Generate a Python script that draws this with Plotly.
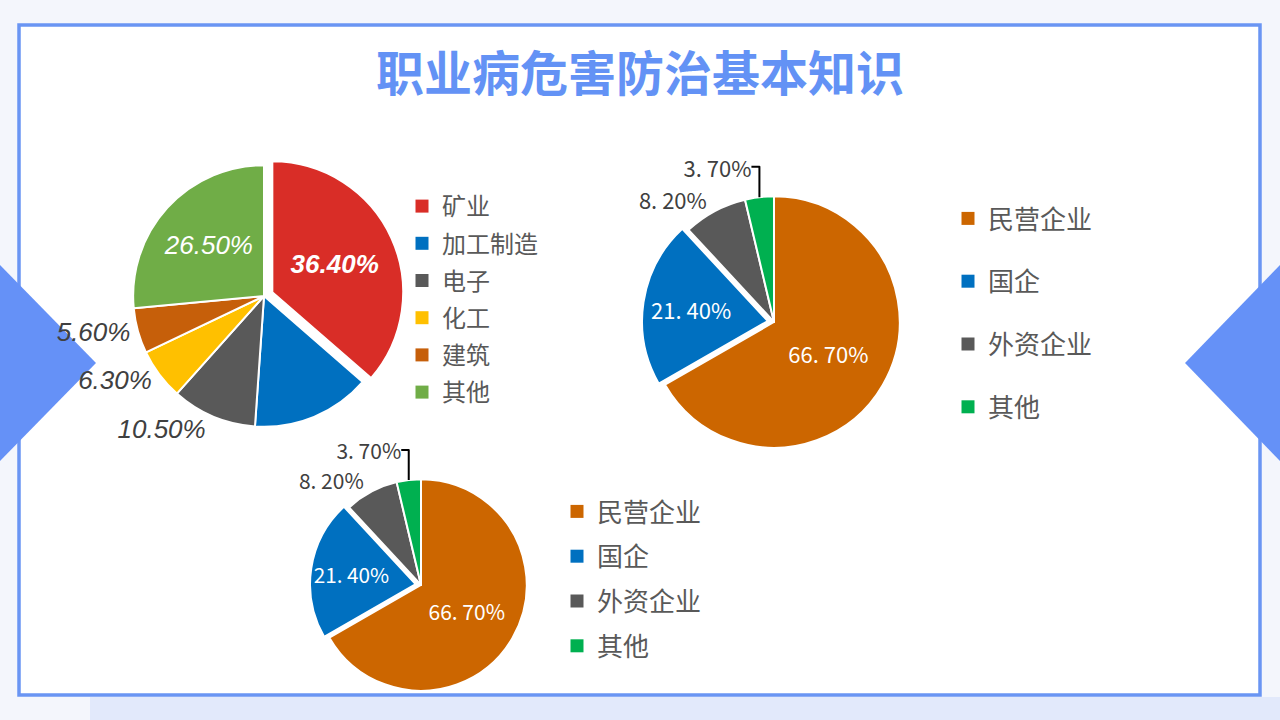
import plotly.graph_objects as go

title_text = "职业病危害防治基本知识"

# pie 1: industry share
industry_labels = ["矿业", "加工制造", "电子", "化工", "建筑", "其他"]
industry_values = [36.4, 14.7, 10.5, 6.3, 5.6, 26.5]
industry_colors = ["#D92D27", "#0070C0", "#595959", "#FFC000", "#C65F0A", "#70AD47"]

# pie 2 / pie 3: enterprise type share
owner_labels = ["民营企业", "国企", "外资企业", "其他"]
owner_values = [66.7, 21.4, 8.2, 3.7]
owner_colors = ["#CC6600", "#0070C0", "#595959", "#00B050"]

cjk = "Noto Sans CJK SC"
blue = "#6392F5"
label_grey = "#595959"
dark_text = "#404040"

W, H = 1280, 720


def dom(cx, cy, half):
    # pixel center + half size -> paper domain
    return dict(x=[(cx - half) / W, (cx + half) / W],
                y=[(H - cy - half) / H, (H - cy + half) / H])


def wide_pct(v):
    return f"{v:.2f}%".replace(".", ". ")


fig = go.Figure()

# ---- pie 1
fig.add_trace(go.Pie(
    labels=industry_labels, values=industry_values,
    text=[f"{v:.2f}%" for v in industry_values], textinfo="text",
    textposition=["inside", "none", "outside", "outside", "outside", "inside"],
    insidetextorientation="horizontal",
    textfont=dict(family="Liberation Sans, Arial", size=26, style="italic",
                  weight=[700, 400, 400, 400, 400, 400],
                  color=["white", "white", dark_text, dark_text, dark_text, "white"]),
    marker=dict(colors=industry_colors, line=dict(color="white", width=2)),
    pull=[0.07, 0, 0, 0, 0, 0],
    sort=False, direction="clockwise", rotation=0,
    domain=dom(264, 296, 140), showlegend=False, hoverinfo="label+percent",
))

# ---- pie 2
fig.add_trace(go.Pie(
    labels=owner_labels, values=owner_values,
    text=[wide_pct(v) for v in owner_values], textinfo="text",
    textposition=["inside", "inside", "outside", "outside"],
    insidetextorientation="horizontal",
    textfont=dict(family=cjk, size=22,
                  color=["white", "white", dark_text, dark_text]),
    marker=dict(colors=owner_colors, line=dict(color="white", width=2)),
    pull=[0, 0.05, 0, 0],
    sort=False, direction="clockwise", rotation=0,
    domain=dom(774, 322, 132), showlegend=False, hoverinfo="label+percent",
))

# ---- pie 3
fig.add_trace(go.Pie(
    labels=owner_labels, values=owner_values,
    text=[wide_pct(v) for v in owner_values], textinfo="text",
    textposition=["inside", "inside", "outside", "outside"],
    insidetextorientation="horizontal",
    textfont=dict(family=cjk, size=21,
                  color=["white", "white", dark_text, dark_text]),
    marker=dict(colors=owner_colors, line=dict(color="white", width=2)),
    pull=[0, 0.05, 0, 0],
    sort=False, direction="clockwise", rotation=0,
    domain=dom(421, 585, 111), showlegend=False, hoverinfo="label+percent",
))

# legends: one entry per category so the spacing can be set with tracegroupgap
for leg, labels, colors in [("legend", industry_labels, industry_colors),
                            ("legend2", owner_labels, owner_colors),
                            ("legend3", owner_labels, owner_colors)]:
    for i, (lab, col) in enumerate(zip(labels, colors)):
        fig.add_trace(go.Scatter(
            x=[None], y=[None], mode="markers", name=lab,
            marker=dict(symbol="square", size=13, color=col),
            legend=leg, legendgroup=f"{leg}_{i}", showlegend=True,
            hoverinfo="skip",
        ))

fig.update_layout(
    width=W, height=H,
    margin=dict(l=0, r=0, t=0, b=0),
    paper_bgcolor="#F4F6FC",
    plot_bgcolor="rgba(0,0,0,0)",
    xaxis=dict(visible=False),
    yaxis=dict(visible=False),
    title=dict(text=title_text, x=0.5, xanchor="center", y=1 - 74 / H, yanchor="middle",
               font=dict(family=cjk, size=48, color=blue, weight="bold")),
    legend=dict(x=402 / W, y=1 - 184 / H, xanchor="left", yanchor="top",
                font=dict(family=cjk, size=24, color=label_grey),
                tracegroupgap=3, bgcolor="rgba(0,0,0,0)"),
    legend2=dict(x=948 / W, y=1 - 195 / H, xanchor="left", yanchor="top",
                 font=dict(family=cjk, size=26, color=label_grey),
                 tracegroupgap=26, bgcolor="rgba(0,0,0,0)"),
    legend3=dict(x=557 / W, y=1 - 488 / H, xanchor="left", yanchor="top",
                 font=dict(family=cjk, size=26, color=label_grey),
                 tracegroupgap=8, bgcolor="rgba(0,0,0,0)"),
    shapes=[
        # faint tinted strip below the panel
        dict(type="rect", xref="paper", yref="paper", layer="below",
             x0=90 / W, x1=1, y0=0, y1=1 - 697 / H,
             fillcolor="#E2E9FB", line=dict(width=0)),
        # white panel with blue frame
        dict(type="rect", xref="paper", yref="paper", layer="below",
             x0=19 / W, x1=1260 / W, y0=1 - 695 / H, y1=1 - 25 / H,
             fillcolor="white", line=dict(color="#6A95F3", width=3.5)),
        # side triangles
        dict(type="path", xref="paper", yref="paper", layer="below",
             path=f"M 0 {1 - 265 / H} L {96 / W} {1 - 363 / H} L 0 {1 - 461 / H} Z",
             fillcolor="#6591F7", line=dict(width=0)),
        dict(type="path", xref="paper", yref="paper", layer="below",
             path=f"M 1 {1 - 265 / H} L {1185 / W} {1 - 363 / H} L 1 {1 - 461 / H} Z",
             fillcolor="#6591F7", line=dict(width=0)),
    ],
)

# the page body has a default 8px margin; drop it so the figure fills the window
fig.write_html("out.html", config={"displayModeBar": False},
               post_script="document.body.style.margin='0';")
